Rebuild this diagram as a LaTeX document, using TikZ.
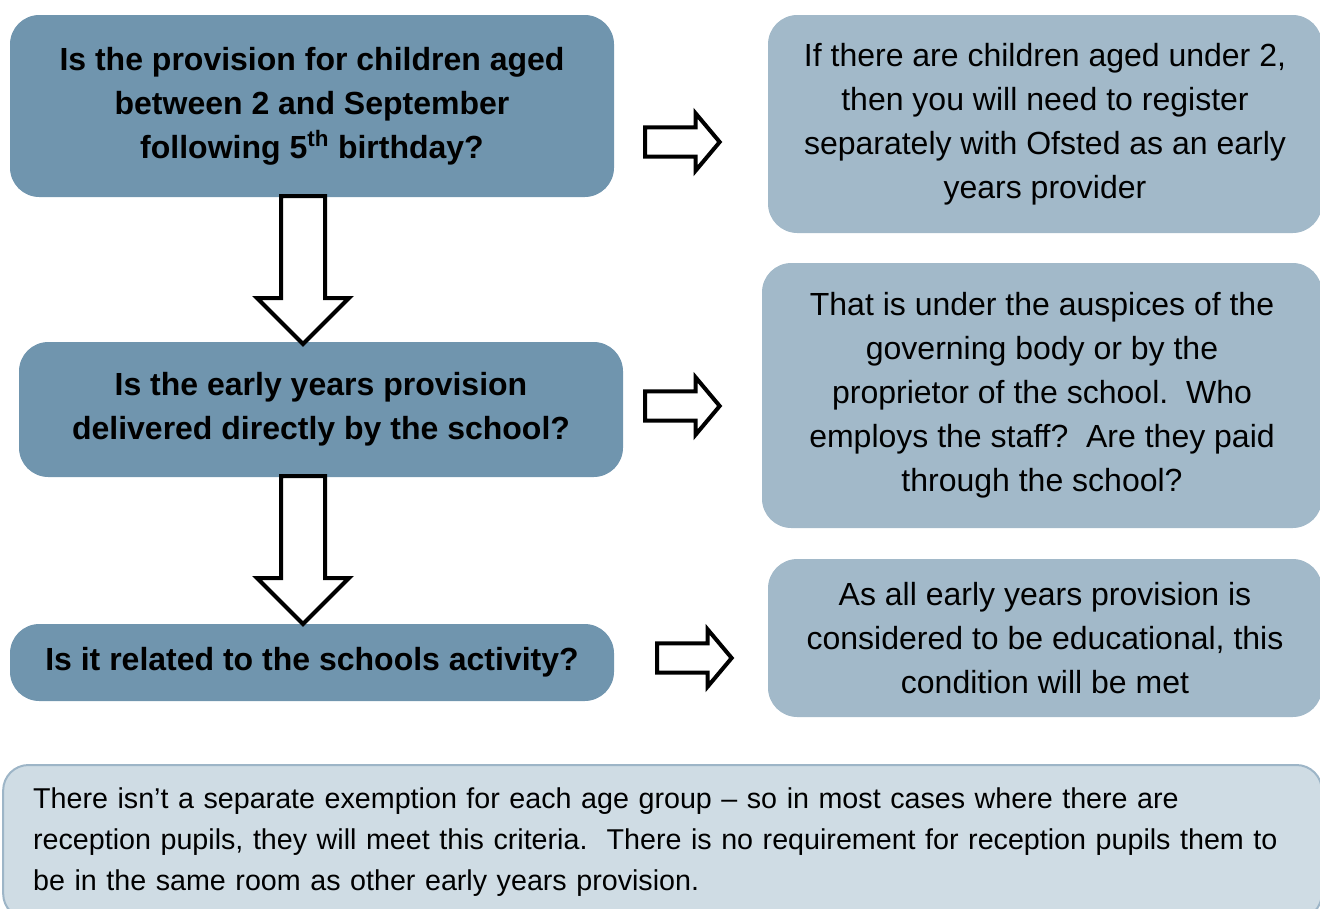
\documentclass[tikz,border=0pt]{standalone}
\usepackage{fontspec}
\setmainfont{Liberation Sans}
\usetikzlibrary{shapes.arrows}

\definecolor{darkbox}{HTML}{7095AE}
\definecolor{lightbox}{HTML}{A2B9C9}
\definecolor{notefill}{HTML}{CFDCE4}
\definecolor{noteline}{HTML}{9DB5C7}

\begin{document}
\frenchspacing
\begin{tikzpicture}[
        x=0.75pt, y=-0.75pt,
        question/.style={fill=darkbox, rounded corners=22pt, align=center, inner sep=0pt, font=\fontsize{24}{33}\selectfont\bfseries},
        answer/.style={fill=lightbox, rounded corners=22pt, align=center, inner sep=0pt, font=\fontsize{24}{33}\selectfont},
        note/.style={fill=notefill, draw=noteline, line width=1.5pt, rounded corners=19pt, align=left, text width=944pt, inner xsep=22.5pt, inner ysep=0pt, font=\fontsize{21.5}{30.75}\selectfont},
        downarrow/.style={single arrow, draw=black, fill=white, line width=3pt, shape border rotate=270, inner sep=15pt, minimum height=111pt, single arrow head extend=18pt, single arrow tip angle=90, anchor=tail},
        rightarrow/.style={single arrow, draw=black, fill=white, line width=3pt, inner sep=9.4pt, minimum height=56pt, single arrow head extend=10.5pt, single arrow tip angle=100, anchor=tail}
    ]
    \useasboundingbox (0,0) rectangle (1320,908);
    \clip (0,0) rectangle (1320,908);

    % --- Questions ---
    \node[question, minimum width=453pt, minimum height=136.5pt] (q1) at (312,106) {Is the provision for children aged\\between 2 and September\\following 5\textsuperscript{th} birthday?};
    \node[question, minimum width=453pt, minimum height=101.25pt] (q2) at (321,409.5) {Is the early years provision\\delivered directly by the school?};
    \node[question, minimum width=453pt, minimum height=57.75pt] (q3) at (312,662.5) {Is it related to the schools activity?};

    % --- Answers ---
    \node[answer, minimum width=415.5pt, minimum height=163.5pt] (a1) at (1045,124) {If there are children aged under 2,\\then you will need to register\\separately with Ofsted as an early\\years provider};
    \node[answer, minimum width=420pt, minimum height=198.75pt] (a2) at (1042,395.5) {That is under the auspices of the\\governing body or by the\\proprietor of the school.~ Who\\employs the staff?~ Are they paid\\through the school?};
    \node[answer, minimum width=415.5pt, minimum height=118.5pt] (a3) at (1045,638) {As all early years provision is\\considered to be educational, this\\condition will be met};

    % --- Note ---
    \node[note, minimum height=115.5pt] (n1) at (662.5,842) {There isn’t a separate exemption for each age group – so in most cases where there are\\reception pupils, they will meet this criteria.~ There is no requirement for reception pupils them to\\be in the same room as other early years provision.};

    % --- Arrows ---
    \node[downarrow] (d1) at (303,194) {};
    \node[downarrow] (d2) at (303,474) {};
    \node[rightarrow] (r1) at (643,142) {};
    \node[rightarrow] (r2) at (643,406) {};
    \node[rightarrow] (r3) at (655,658) {};

\end{tikzpicture}
\end{document}
